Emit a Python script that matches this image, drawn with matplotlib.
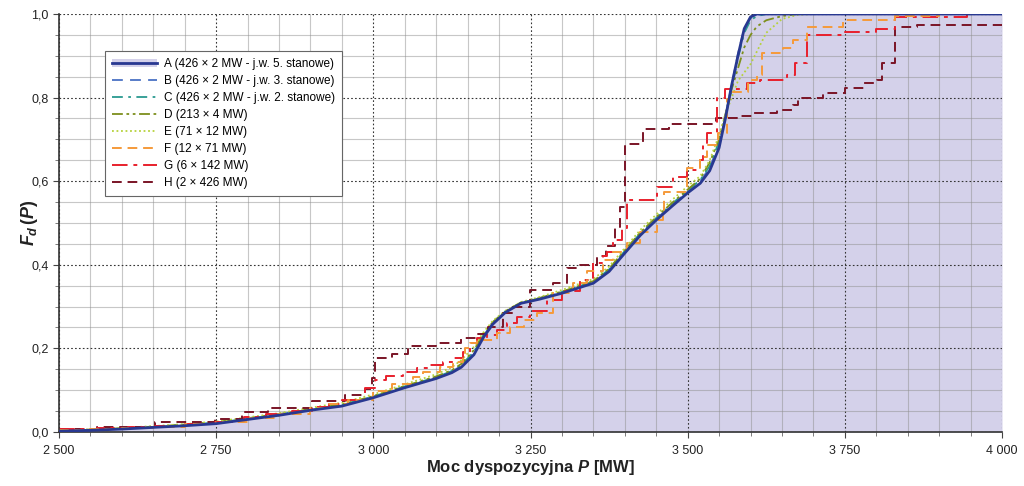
import numpy as np
import matplotlib
matplotlib.use("Agg")
import matplotlib.pyplot as plt
from matplotlib.ticker import MultipleLocator, FuncFormatter
from matplotlib.patches import Patch

plt.rcParams['font.family'] = ['Liberation Sans', 'DejaVu Sans']
plt.rcParams['mathtext.fontset'] = 'custom'
plt.rcParams['mathtext.it'] = 'Liberation Sans:italic:bold'
plt.rcParams['mathtext.rm'] = 'Liberation Sans:bold'

# smooth curves A..E share one grid of P values [MW]
p_grid = [2500, 2550, 2600, 2650, 2700, 2750, 2800, 2850, 2900, 2950,
          3000, 3050, 3100, 3125, 3140, 3160, 3175, 3190, 3210, 3235,
          3265, 3300, 3350, 3375, 3400, 3425, 3450, 3475, 3500, 3520,
          3535, 3550, 3560, 3570, 3580, 3590, 3600, 3610, 3625, 3650,
          3675, 3700, 4000]
a_f = [0.002, 0.004, 0.007, 0.011, 0.015, 0.020, 0.030, 0.040, 0.052, 0.062,
       0.082, 0.106, 0.128, 0.142, 0.155, 0.185, 0.226, 0.258, 0.286, 0.308,
       0.318, 0.332, 0.356, 0.384, 0.428, 0.471, 0.507, 0.540, 0.572, 0.595,
       0.625, 0.680, 0.750, 0.830, 0.900, 0.965, 0.993, 1.0, 1.0, 1.0,
       1.0, 1.0, 1.0]
b_f = [0.003, 0.005, 0.008, 0.012, 0.016, 0.022, 0.031, 0.041, 0.053, 0.064,
       0.084, 0.108, 0.130, 0.145, 0.158, 0.190, 0.230, 0.261, 0.288, 0.309,
       0.319, 0.334, 0.358, 0.387, 0.431, 0.474, 0.510, 0.543, 0.575, 0.600,
       0.632, 0.690, 0.755, 0.830, 0.905, 0.965, 0.990, 0.998, 1.0, 1.0,
       1.0, 1.0, 1.0]
c_f = [0.003, 0.005, 0.008, 0.012, 0.017, 0.022, 0.032, 0.042, 0.054, 0.065,
       0.085, 0.109, 0.131, 0.146, 0.160, 0.192, 0.232, 0.262, 0.289, 0.309,
       0.320, 0.335, 0.360, 0.389, 0.433, 0.476, 0.512, 0.546, 0.578, 0.603,
       0.636, 0.695, 0.752, 0.820, 0.895, 0.955, 0.985, 0.995, 1.0, 1.0,
       1.0, 1.0, 1.0]
d_f = [0.003, 0.006, 0.009, 0.013, 0.018, 0.024, 0.033, 0.043, 0.055, 0.066,
       0.086, 0.110, 0.133, 0.148, 0.163, 0.196, 0.234, 0.263, 0.289, 0.310,
       0.321, 0.336, 0.361, 0.391, 0.435, 0.478, 0.514, 0.548, 0.580, 0.606,
       0.645, 0.700, 0.760, 0.820, 0.870, 0.920, 0.950, 0.970, 0.985, 0.995,
       1.0, 1.0, 1.0]
e_f = [0.003, 0.006, 0.010, 0.014, 0.019, 0.025, 0.035, 0.045, 0.058, 0.070,
       0.090, 0.114, 0.138, 0.155, 0.172, 0.204, 0.238, 0.266, 0.290, 0.311,
       0.323, 0.340, 0.366, 0.396, 0.440, 0.484, 0.520, 0.555, 0.588, 0.612,
       0.650, 0.710, 0.760, 0.800, 0.840, 0.860, 0.880, 0.910, 0.955, 0.988,
       0.998, 1.0, 1.0]

# stepped curves
f_p = [2500, 2550, 2600, 2650, 2700, 2750, 2800, 2850, 2900, 2930,
       2960, 3000, 3030, 3063, 3079, 3106,
       3127, 3143, 3146, 3154, 3165, 3197, 3218, 3239, 3260, 3286,
       3318, 3340, 3366, 3382, 3403, 3424, 3451, 3461, 3463, 3499,
       3520, 3531, 3549, 3562, 3567, 3596, 3610, 3618, 3652, 3668,
       3690, 3747, 3830, 3900, 4000]
f_f = [0.004, 0.006, 0.009, 0.013, 0.018, 0.024, 0.033, 0.044, 0.057, 0.066,
       0.077, 0.098, 0.115, 0.132, 0.144, 0.156,
       0.168, 0.180, 0.200, 0.213, 0.220, 0.237, 0.252, 0.268, 0.285, 0.332,
       0.356, 0.384, 0.411, 0.431, 0.452, 0.479, 0.507, 0.531, 0.575, 0.631,
       0.659, 0.687, 0.715, 0.797, 0.814, 0.842, 0.854, 0.906, 0.918, 0.938,
       0.970, 0.985, 0.995, 1.0, 1.0]
g_p = [2500, 2560, 2610, 2653, 2700, 2748, 2795, 2830, 2870, 2902,
       2930, 2950, 2987, 3003, 3020,
       3047, 3069, 3090, 3111, 3127, 3143, 3154, 3165, 3181, 3197,
       3213, 3229, 3249, 3276, 3300, 3329, 3350, 3366, 3372, 3382,
       3395, 3403, 3451, 3477, 3499, 3520, 3525, 3531, 3546, 3560,
       3594, 3615, 3658, 3671, 3690, 3750, 3800, 3830, 3944, 4000]
g_f = [0.006, 0.009, 0.012, 0.015, 0.019, 0.024, 0.035, 0.042, 0.050, 0.060,
       0.068, 0.077, 0.105, 0.124, 0.134,
       0.144, 0.153, 0.160, 0.168, 0.177, 0.192, 0.213, 0.225, 0.232, 0.245,
       0.260, 0.275, 0.290, 0.315, 0.338, 0.364, 0.404, 0.420, 0.431, 0.459,
       0.488, 0.555, 0.587, 0.611, 0.627, 0.651, 0.690, 0.715, 0.800, 0.820,
       0.834, 0.842, 0.854, 0.882, 0.950, 0.958, 0.964, 0.993, 1.0, 1.0]
h_p = [2500, 2560, 2653, 2748, 2791, 2832, 2902, 2955, 2987, 2998,
       3003, 3030, 3055, 3100, 3140, 3165, 3183, 3206, 3222, 3249,
       3286, 3308, 3329, 3355, 3370, 3385, 3392, 3400, 3429, 3470,
       3545, 3578, 3604, 3642, 3668, 3676, 3715, 3750, 3780, 3801,
       3809, 3830, 3865, 4000]
h_f = [0.008, 0.013, 0.024, 0.031, 0.048, 0.057, 0.073, 0.088, 0.102, 0.130,
       0.177, 0.186, 0.206, 0.214, 0.225, 0.234, 0.252, 0.284, 0.300, 0.340,
       0.356, 0.392, 0.400, 0.420, 0.445, 0.490, 0.538, 0.690, 0.726, 0.738,
       0.751, 0.756, 0.763, 0.770, 0.782, 0.798, 0.811, 0.822, 0.834, 0.842,
       0.883, 0.970, 0.974, 0.974]

labels = ["A (426 × 2 MW - j.w. 5. stanowe)",
          "B (426 × 2 MW - j.w. 3. stanowe)",
          "C (426 × 2 MW - j.w. 2. stanowe)",
          "D (213 × 4 MW)",
          "E (71 × 12 MW)",
          "F (12 × 71 MW)",
          "G (6 × 142 MW)",
          "H (2 × 426 MW)"]

fill_col = '#d4d1ea'

fig = plt.figure(figsize=(10.24, 4.86), dpi=100)
ax = fig.add_axes([59 / 1024, 54 / 486, 943 / 1024, 418 / 486])

ax.fill_between(p_grid, a_f, 0, color=fill_col, lw=0, zorder=1)

line_b, = ax.plot(p_grid, b_f, color='#4a72c4', lw=1.3, dashes=(6, 4))
line_c, = ax.plot(p_grid, c_f, color='#2a9a90', lw=1.3, dashes=(6, 3, 1.5, 3))
line_d, = ax.plot(p_grid, d_f, color='#7d8f1c', lw=1.3, dashes=(6, 2, 1.5, 2, 1.5, 2))
line_e, = ax.plot(p_grid, e_f, color='#b6d23c', lw=1.3, dashes=(1, 1.5))
line_h, = ax.plot(h_p, h_f, color='#7a1426', lw=1.4, dashes=(5, 3), drawstyle='steps-post')
line_g, = ax.plot(g_p, g_f, color='#e8202c', lw=1.4, dashes=(8, 3, 2, 3), drawstyle='steps-post')
line_f, = ax.plot(f_p, f_f, color='#f59a3a', lw=1.4, dashes=(5, 3), drawstyle='steps-post')
line_a, = ax.plot(p_grid, a_f, color='#283891', lw=2.0, zorder=3)

ax.set_xlim(2500, 4000)
ax.set_ylim(0, 1.0)
ax.xaxis.set_major_locator(MultipleLocator(250))
ax.xaxis.set_minor_locator(MultipleLocator(50))
ax.yaxis.set_major_locator(MultipleLocator(0.2))
ax.yaxis.set_minor_locator(MultipleLocator(0.05))
ax.xaxis.set_major_formatter(FuncFormatter(lambda v, pos: f"{int(round(v)):,}".replace(',', ' ')))
ax.yaxis.set_major_formatter(FuncFormatter(lambda v, pos: f"{v:.1f}".replace('.', ',')))

ax.grid(which='minor', color='#909090', alpha=0.5, lw=0.8, linestyle='-')
ax.grid(which='major', color='#333333', lw=0.8, dashes=(1.5, 2))

for side in ['top', 'right']:
    ax.spines[side].set_visible(False)
for side in ['left', 'bottom']:
    ax.spines[side].set_color('#333333')
    ax.spines[side].set_linewidth(1.2)

ax.tick_params(which='major', direction='out', length=4, width=0.8, color='#444444',
               labelsize=9, colors='#222222')
ax.tick_params(which='minor', direction='out', length=3, width=0.6, color='#666666')
ax.tick_params(axis='x', pad=5)

ax.set_xlabel('Moc dyspozycyjna $P$ [MW]', fontsize=12, fontweight='bold', color='#222222')
ax.set_ylabel(r'$F_d\,(P)$', fontsize=13, color='#222222')
ax.xaxis.set_label_coords(0.5, -0.084)
ax.yaxis.set_label_coords(-0.031, 0.5)
ax.xaxis.label.set_va('center')
ax.yaxis.label.set_va('center')

a_handle = (Patch(facecolor=fill_col, edgecolor='none'), line_a)
handles = [a_handle, line_b, line_c, line_d, line_e, line_f, line_g, line_h]
leg = ax.legend(handles, labels, loc='upper left', bbox_to_anchor=(0.0488, 0.9115),
                borderaxespad=0, fontsize=8.5, handlelength=3.8, handletextpad=0.6,
                labelspacing=0.42, fancybox=False, framealpha=1, edgecolor='#666666',
                borderpad=0.6)
leg.get_frame().set_linewidth(0.8)
leg.set_zorder(5)

fig.savefig('out.png', dpi=100)
